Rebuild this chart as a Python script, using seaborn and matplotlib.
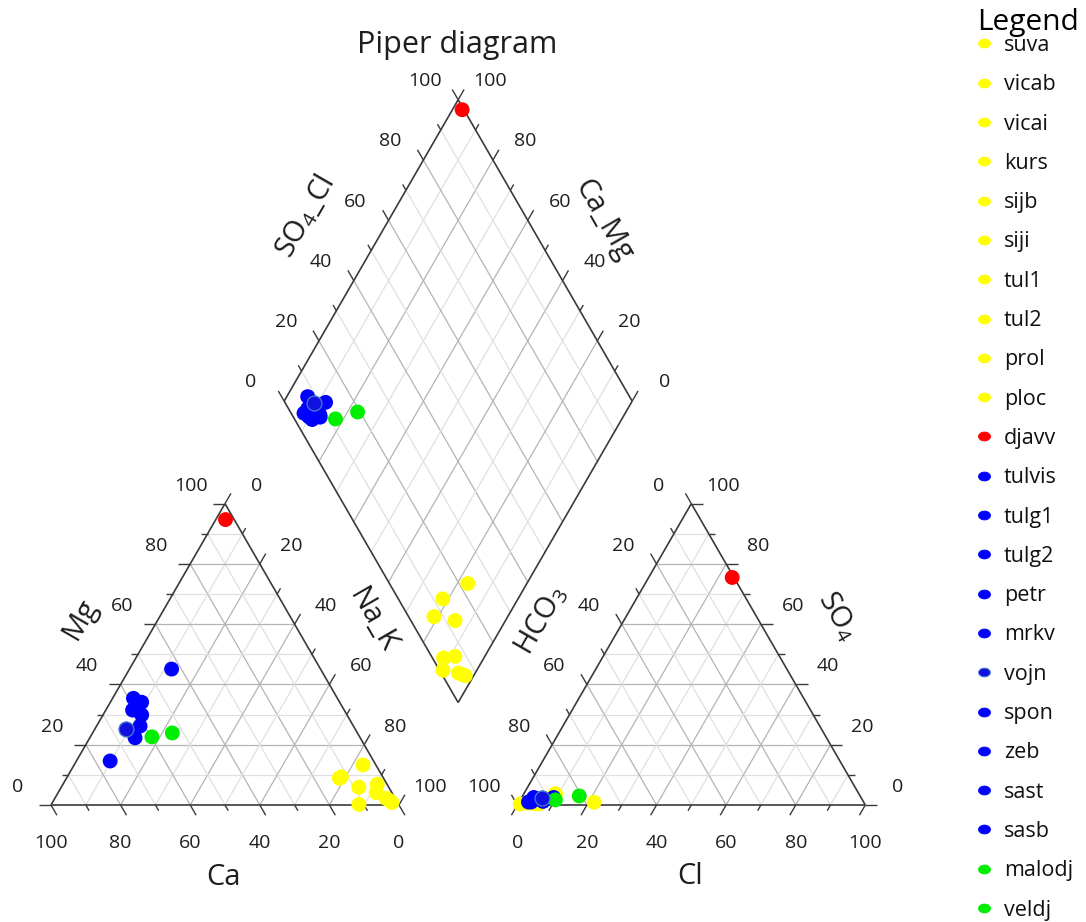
import numpy as np
import pandas as pd
import matplotlib
matplotlib.use("Agg")
import matplotlib.pyplot as plt
import seaborn as sns
from matplotlib.lines import Line2D
from matplotlib.path import Path
from matplotlib.markers import MarkerStyle

# ---- sample chemistry (% meq) ----
samples = ["suva", "vicab", "vicai", "kurs", "sijb", "siji", "tul1", "tul2",
           "prol", "ploc", "djavv", "tulvis", "tulg1", "tulg2", "petr", "mrkv",
           "vojn", "spon", "zeb", "sast", "sasb", "malodj", "veldj"]
colors = ["#ffff00"] * 10 + ["#ff0000"] + ["#0000ff"] * 5 + ["#1010e0"] + \
         ["#0000ff"] * 4 + ["#00ee00"] * 2

# cations
ca = [3.7, 12.7, 11.9, 8.6, 11.4, 4.5, 2.8, 2.6, 1.6, 2.0,
      2.5,
      42.8, 58.6, 56.9, 60.8, 59.0, 65.8, 61.3, 64.7, 75.7, 59.0,
      59.7, 53.2]
mg = [13.3, 8.9, 9.3, 5.9, 0.2, 4.1, 6.9, 2.2, 0.8, 1.5,
      94.7,
      45.1, 35.4, 34.1, 31.5, 29.9, 25.2, 26.2, 22.3, 14.6, 33.0,
      22.6, 23.9]
na_k = [83.0, 78.4, 78.8, 85.5, 88.4, 91.4, 90.3, 95.2, 97.6, 96.5,
        2.8,
        12.1, 6.0, 9.0, 7.7, 11.1, 9.0, 12.5, 13.0, 9.7, 8.0,
        17.7, 22.9]
# anions
hco3 = [77.5, 87.2, 92.7, 87.3, 96.8, 93.3, 99.0, 95.0, 93.5, 94.2,
        0.5,
        88.3, 92.5, 94.0, 96.3, 95.0, 91.7, 92.0, 92.3, 95.5, 94.5,
        88.2, 80.7]
so4 = [0.9, 3.6, 1.0, 3.7, 0.6, 0.8, 0.3, 0.5, 0.4, 0.4,
       75.5,
       2.5, 2.0, 2.5, 1.0, 1.5, 2.3, 1.2, 1.8, 1.0, 1.8,
       1.7, 3.0]
cl = [21.6, 9.2, 6.3, 9.0, 2.6, 5.9, 0.7, 4.5, 6.1, 5.4,
      24.0,
      9.2, 5.5, 3.5, 2.7, 3.5, 6.0, 6.8, 5.9, 3.5, 3.7,
      10.1, 16.3]

tick_values = list(range(0, 101, 10))
label_values = list(range(0, 101, 20))

# ---- geometry ----
GAP = 34.0
SQ = np.sqrt(3) / 2
X_AN = 100 + GAP
BX, BY = 100 + GAP / 2, GAP / 2 * np.sqrt(3)


def tri_xy(r, t, x0):
    r = np.asarray(r, float)
    t = np.asarray(t, float)
    return x0 + r + t / 2, t * SQ


def dia_xy(n, s):
    n = np.asarray(n, float)
    s = np.asarray(s, float)
    return BX + 0.5 * s - 0.5 * (100 - n), BY + SQ * (s + 100 - n)


sns.set_theme(style="white")
plt.rcParams["font.family"] = ["Open Sans", "DejaVu Sans"]
plt.rcParams["mathtext.fontset"] = "custom"
plt.rcParams["mathtext.rm"] = "Open Sans"
plt.rcParams["mathtext.it"] = "Open Sans:italic"
plt.rcParams["mathtext.bf"] = "Open Sans:bold"

PX = 3.48
fig = plt.figure(figsize=(10.86, 9.22), dpi=100)
ax = fig.add_axes([0, 0, 1, 1])
XL = (-51 / PX, (1086 - 51) / PX)
YL = (-(922 - 805) / PX, 805 / PX)
ax.axis("off")

EDGE = "#3a3a3a"
MAJ = "#b4b4b4"
MIN = "#e0e0e0"
TXT = "#1e1e1e"
TICK_FS = 14
LAB_FS = 21
MAJ_LEN, MIN_LEN = 3.4, 1.9


def seg(p, q, **kw):
    ax.plot([p[0], q[0]], [p[1], q[1]], solid_capstyle="butt", **kw)


def grid_style(v):
    return dict(color=MAJ if v % 20 == 0 else MIN, lw=0.9, zorder=1)


def tick(p, d, v):
    L = MAJ_LEN if v % 20 == 0 else MIN_LEN
    seg(p, (p[0] + d[0] * L, p[1] + d[1] * L), color=EDGE, lw=1.0, zorder=3)


def txt(x, y, s, **kw):
    ax.text(x, y, s, ha="center", va="center", color=TXT, **kw)


# ---- the two ternary triangles ----
for x0 in (0.0, X_AN):
    for v in range(10, 100, 10):
        gs = grid_style(v)
        seg(tri_xy(0, v, x0), tri_xy(100 - v, v, x0), **gs)
        seg(tri_xy(v, 0, x0), tri_xy(v, 100 - v, x0), **gs)
        seg(tri_xy(100 - v, 0, x0), tri_xy(0, 100 - v, x0), **gs)
    a, b, c = tri_xy(0, 0, x0), tri_xy(100, 0, x0), tri_xy(0, 100, x0)
    for p, q in ((a, b), (b, c), (c, a)):
        seg(p, q, color=EDGE, lw=1.2, zorder=3)

# cation ticks: Ca (bottom), Mg (left), Na_K (right)
for v in tick_values:
    tick(tri_xy(100 - v, 0, 0), (0.5, -SQ), v)
    tick(tri_xy(0, v, 0), (-1.0, 0.0), v)
    tick(tri_xy(v, 100 - v, 0), (0.5, SQ), v)
# anion ticks: Cl (bottom), HCO3 (left), SO4 (right)
for v in tick_values:
    tick(tri_xy(v, 0, X_AN), (-0.5, -SQ), v)
    tick(tri_xy(0, 100 - v, X_AN), (-0.5, SQ), v)
    tick(tri_xy(100 - v, v, X_AN), (1.0, 0.0), v)

for v in label_values:
    x, y = tri_xy(100 - v, 0, 0)
    txt(x, y - 10.9, str(v), fontsize=TICK_FS)
    x, y = tri_xy(0, v, 0)
    txt(x - 9.7, y + 5.2, str(v), fontsize=TICK_FS)
    x, y = tri_xy(v, 100 - v, 0)
    txt(x + 9.0, y + 5.2, str(v), fontsize=TICK_FS)
    x, y = tri_xy(v, 0, X_AN)
    txt(x, y - 10.9, str(v), fontsize=TICK_FS)
    x, y = tri_xy(0, 100 - v, X_AN)
    txt(x - 9.5, y + 5.2, str(v), fontsize=TICK_FS)
    x, y = tri_xy(100 - v, v, X_AN)
    txt(x + 9.2, y + 5.2, str(v), fontsize=TICK_FS)

# ---- central diamond ----
for v in range(10, 100, 10):
    gs = grid_style(v)
    seg(dia_xy(v, 0), dia_xy(v, 100), **gs)
    seg(dia_xy(0, v), dia_xy(100, v), **gs)
for p, q in ((dia_xy(0, 0), dia_xy(0, 100)), (dia_xy(0, 100), dia_xy(100, 100)),
             (dia_xy(100, 100), dia_xy(100, 0)), (dia_xy(100, 0), dia_xy(0, 0))):
    seg(p, q, color=EDGE, lw=1.2, zorder=3)
for v in tick_values:
    tick(dia_xy(0, v), (-0.5, SQ), v)
    tick(dia_xy(v, 100), (0.5, SQ), v)
for v in label_values:
    x, y = dia_xy(0, v)
    txt(x - 9.5, y + 5.4, str(v), fontsize=TICK_FS)
    x, y = dia_xy(100 - v, 100)
    txt(x + 9.2, y + 5.4, str(v), fontsize=TICK_FS)

# ---- axis titles ----
rot = dict(rotation_mode="anchor", fontsize=LAB_FS)
txt(8.3, 53.2, "Mg", rotation=60, **rot)
txt(92.2, 53.2, "Na_K", rotation=-60, **rot)
txt(49.7, -20.7, "Ca", fontsize=LAB_FS)
txt(140.8, 53.2, "HCO$_3$", rotation=60, **rot)
txt(226.2, 54.1, "SO$_4$", rotation=-60, **rot)
txt(183.6, -20.6, "Cl", fontsize=LAB_FS)
txt(73.0, 169.0, "SO$_4$_Cl", rotation=60, **rot)
txt(158.7, 168.1, "Ca_Mg", rotation=-60, **rot)
txt(116.7, 218.4, "Piper diagram", fontsize=22)

# ---- samples in all three fields ----
s_arr = np.asarray(so4) + np.asarray(cl)
cx, cy = tri_xy(na_k, mg, 0.0)
axx, ayy = tri_xy(cl, so4, X_AN)
dx, dy = dia_xy(na_k, s_arr)
frames = []
for X, Y in ((cx, cy), (axx, ayy), (dx, dy)):
    frames.append(pd.DataFrame({"sample": samples, "x": X, "y": Y}))
pts = pd.concat(frames, ignore_index=True)
palette = dict(zip(samples, colors))
sns.scatterplot(data=pts, x="x", y="y", hue="sample", palette=palette,
                hue_order=samples, s=115, linewidth=0, legend=False,
                ax=ax, zorder=5)
vj = pts[pts["sample"] == "vojn"]
ax.scatter(vj["x"], vj["y"], s=115, color=palette["vojn"],
           edgecolors="#4a80c8", linewidths=0.9, zorder=6)
ax.set_xlabel("")
ax.set_ylabel("")
ax.set_xlim(*XL)
ax.set_ylim(*YL)

# ---- legend ----
th = np.linspace(0, 2 * np.pi, 64)
ell = MarkerStyle(Path(np.column_stack([1.35 * np.cos(th), np.sin(th)]), closed=True))
handles = []
for name, col in zip(samples, colors):
    ec = "#4a80c8" if name == "vojn" else col
    handles.append(Line2D([], [], linestyle="", marker=ell, markersize=8.5,
                          markerfacecolor=col, markeredgecolor=ec,
                          markeredgewidth=0.7))
fig.text(977 / 1086, 1 - 30 / 922, "Legend", fontsize=21.5, ha="left",
         va="baseline", color="black")
fig.legend(handles=handles, labels=samples, loc="upper left",
           bbox_to_anchor=(976 / 1086, 1 - 35 / 922), frameon=False,
           fontsize=15.5, handlelength=0.75, handletextpad=0.55,
           labelspacing=0.85, borderpad=0, borderaxespad=0, labelcolor="#111111")

fig.savefig("out.png", dpi=100)
